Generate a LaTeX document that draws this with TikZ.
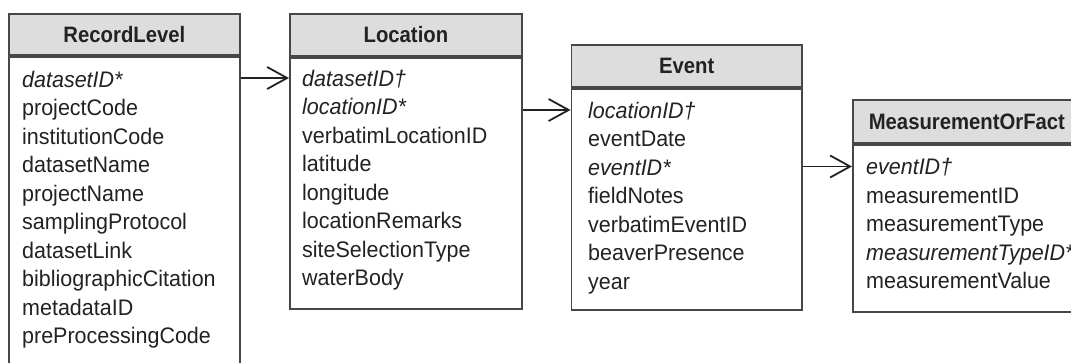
\documentclass[tikz,border=0pt]{standalone}
\usepackage{fontspec}
\setmainfont{Liberation Sans}[FakeStretch=0.955]
\newfontfamily\headfont{Liberation Sans}[FakeStretch=0.91]
\usetikzlibrary{arrows.meta}
\definecolor{edge}{HTML}{474747}
\definecolor{headfill}{HTML}{DDDDDD}
\definecolor{ink}{HTML}{222222}

\begin{document}
\begin{tikzpicture}[x=1pt,y=-1pt,
  boxhead/.style={draw=edge,line width=1.8pt,fill=headfill,anchor=north west,
    inner sep=0pt,font=\headfont\bfseries\fontsize{22.3}{24}\selectfont,text=ink},
  boxbody/.style={draw=edge,line width=1.8pt,fill=white,anchor=north west,inner sep=0pt},
  field/.style={anchor=base west,inner sep=0pt,text height=16pt,text depth=0pt,
    font=\fontsize{22.5}{24}\selectfont,text=ink},
  key/.style={field,font=\itshape\fontsize{22.5}{24}\selectfont},
  fk/.style={draw=ink,line width=1.8pt,-{Straight Barb[length=20pt,width=22pt]}}
]
\useasboundingbox (0,0) rectangle (1071,362);
\clip (0,0) rectangle (1071,362);

% RecordLevel table
\node[boxhead,minimum width=231pt,minimum height=41pt] (rl-h) at (8,13) {RecordLevel};
\node[boxbody,minimum width=231pt,minimum height=330pt] (rl) at (rl-h.south west) {};
\foreach \s/\t [count=\i] in {key/datasetID*,field/projectCode,field/institutionCode,
  field/datasetName,field/projectName,field/samplingProtocol,field/datasetLink,
  field/bibliographicCitation,field/metadataID,field/preProcessingCode}
  \node[\s] (rl-\i) at (22,{58.5+28.5*\i}) {\t};

% Location table
\node[boxhead,minimum width=232pt,minimum height=42pt] (loc-h) at (289,13) {Location};
\node[boxbody,minimum width=232pt,minimum height=251pt] (loc) at (loc-h.south west) {};
\foreach \s/\t [count=\i] in {key/datasetID†,key/locationID*,field/verbatimLocationID,
  field/latitude,field/longitude,field/locationRemarks,field/siteSelectionType,
  field/waterBody}
  \node[\s] (loc-\i) at (302,{57.5+28.5*\i}) {\t};

% Event table
\node[boxhead,minimum width=230.5pt,minimum height=42pt] (ev-h) at (570.5,44) {Event};
\node[boxbody,minimum width=230.5pt,minimum height=221pt] (ev) at (ev-h.south west) {};
\foreach \s/\t [count=\i] in {key/locationID†,field/eventDate,key/eventID*,
  field/fieldNotes,field/verbatimEventID,field/beaverPresence,field/year}
  \node[\s] (ev-\i) at (588,{89.5+28.5*\i}) {\t};

% MeasurementOrFact table
\node[boxhead,minimum width=228pt,minimum height=43pt] (mf-h) at (852,99) {MeasurementOrFact};
\node[boxbody,minimum width=228pt,minimum height=167pt] (mf) at (mf-h.south west) {};
\foreach \s/\t [count=\i] in {key/eventID†,field/measurementID,field/measurementType,
  key/measurementTypeID*,field/measurementValue}
  \node[\s] (mf-\i) at (866,{146+28.5*\i}) {\t};

% key links
\draw[fk] (loc-1 -| rl.east) -- (loc-1 -| loc.west);
\draw[fk] (ev-1 -| loc.east) -- (ev-1 -| ev.west);
\draw[fk] (mf-1 -| ev.east) -- (mf-1 -| mf.west);
\end{tikzpicture}
\end{document}
